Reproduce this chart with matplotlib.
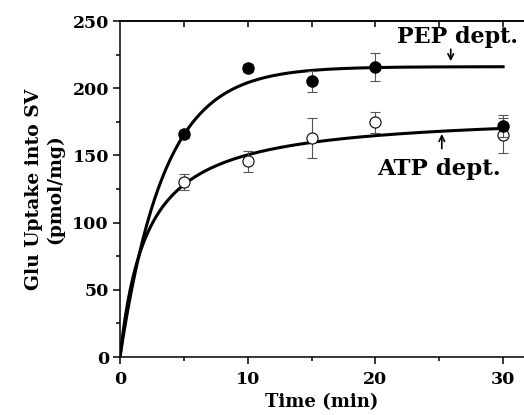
import numpy as np
import matplotlib
matplotlib.use("Agg")
import matplotlib.pyplot as plt
from matplotlib.ticker import MultipleLocator

# ---- data ----
time_pts = [5, 10, 15, 20, 30]
pep_vals = [166, 215, 205, 216, 172]
pep_err = [3, 3, 7.5, 10.5, 8]
atp_vals = [130, 145.5, 163, 174.5, 165]
atp_err = [6, 8, 15, 7.5, 13]

# fitted curves (model parameters read from the drawn fits)
pep_fit_A, pep_fit_k = 216.0, 0.29      # A*(1-exp(-k t))
atp_fit_Vmax, atp_fit_K = 182.0, 2.1    # Vmax*t/(K+t)

xticks = [0, 10, 20, 30]
yticks = [0, 50, 100, 150, 200, 250]

plt.rcParams['font.family'] = ['DejaVu Serif']
plt.rcParams['font.weight'] = 'bold'

fig = plt.figure(figsize=(5.24, 4.15), dpi=100)
ax = fig.add_axes([120/524, 58/415, 1 - 120/524, (357-21)/415])

t = np.linspace(0, 30, 300)
ax.plot(t, pep_fit_A * (1 - np.exp(-pep_fit_k * t)), color='black', lw=2.2, zorder=2)
ax.plot(t, atp_fit_Vmax * t / (atp_fit_K + t), color='black', lw=2.2, zorder=2)

ax.errorbar(time_pts, atp_vals, yerr=atp_err, fmt='o', mfc='white', mec='black',
            mew=0.8, ms=8, ecolor='#555555', elinewidth=0.8, capsize=3.5, capthick=0.8, zorder=3)
ax.errorbar(time_pts, pep_vals, yerr=pep_err, fmt='o', mfc='black', mec='black',
            ms=8, ecolor='#555555', elinewidth=0.8, capsize=3.5, capthick=0.8, zorder=4)

xmax = (524 - 120) / 12.77
ax.set_xlim(0, xmax)
ax.set_ylim(0, 250)
ax.set_xticks(xticks)
ax.set_yticks(yticks)
ax.xaxis.set_minor_locator(MultipleLocator(5))
ax.yaxis.set_minor_locator(MultipleLocator(25))

for s in ['left', 'bottom', 'top']:
    ax.spines[s].set_linewidth(1.1)
ax.spines['right'].set_visible(False)

ax.tick_params(axis='both', which='major', direction='out', length=5, width=1.1,
               labelsize=12.5, pad=3)
ax.tick_params(axis='x', which='major', pad=5)
ax.tick_params(axis='both', which='minor', direction='out', length=3, width=1.1)

# top ticks pointing inward
ax2 = ax.twiny()
ax2.set_xlim(0, xmax)
ax2.set_xticks([5, 10, 15, 20, 25, 30])
ax2.tick_params(axis='x', direction='in', length=4, width=1.1, labeltop=False)
for s in ['left', 'bottom', 'right']:
    ax2.spines[s].set_visible(False)
ax2.spines['top'].set_linewidth(1.1)

ax.set_xlabel('Time (min)', fontsize=13, fontweight='bold', labelpad=4)
ax.set_ylabel('Glu Uptake into SV\n(pmol/mg)', fontsize=13.5, fontweight='bold',
              labelpad=6, linespacing=1.2)

ax.annotate('', xy=(25.9, 218), xytext=(25.9, 231),
            arrowprops=dict(arrowstyle='->', lw=1.2, color='black'))
ax.text(26.4, 230, 'PEP dept.', fontsize=16, fontweight='bold', ha='center', va='bottom')
ax.annotate('', xy=(25.2, 168), xytext=(25.2, 153),
            arrowprops=dict(arrowstyle='->', lw=1.2, color='black'))
ax.text(25.0, 140, 'ATP dept.', fontsize=16.5, fontweight='bold', ha='center', va='center')

fig.savefig('out.png', dpi=100)
